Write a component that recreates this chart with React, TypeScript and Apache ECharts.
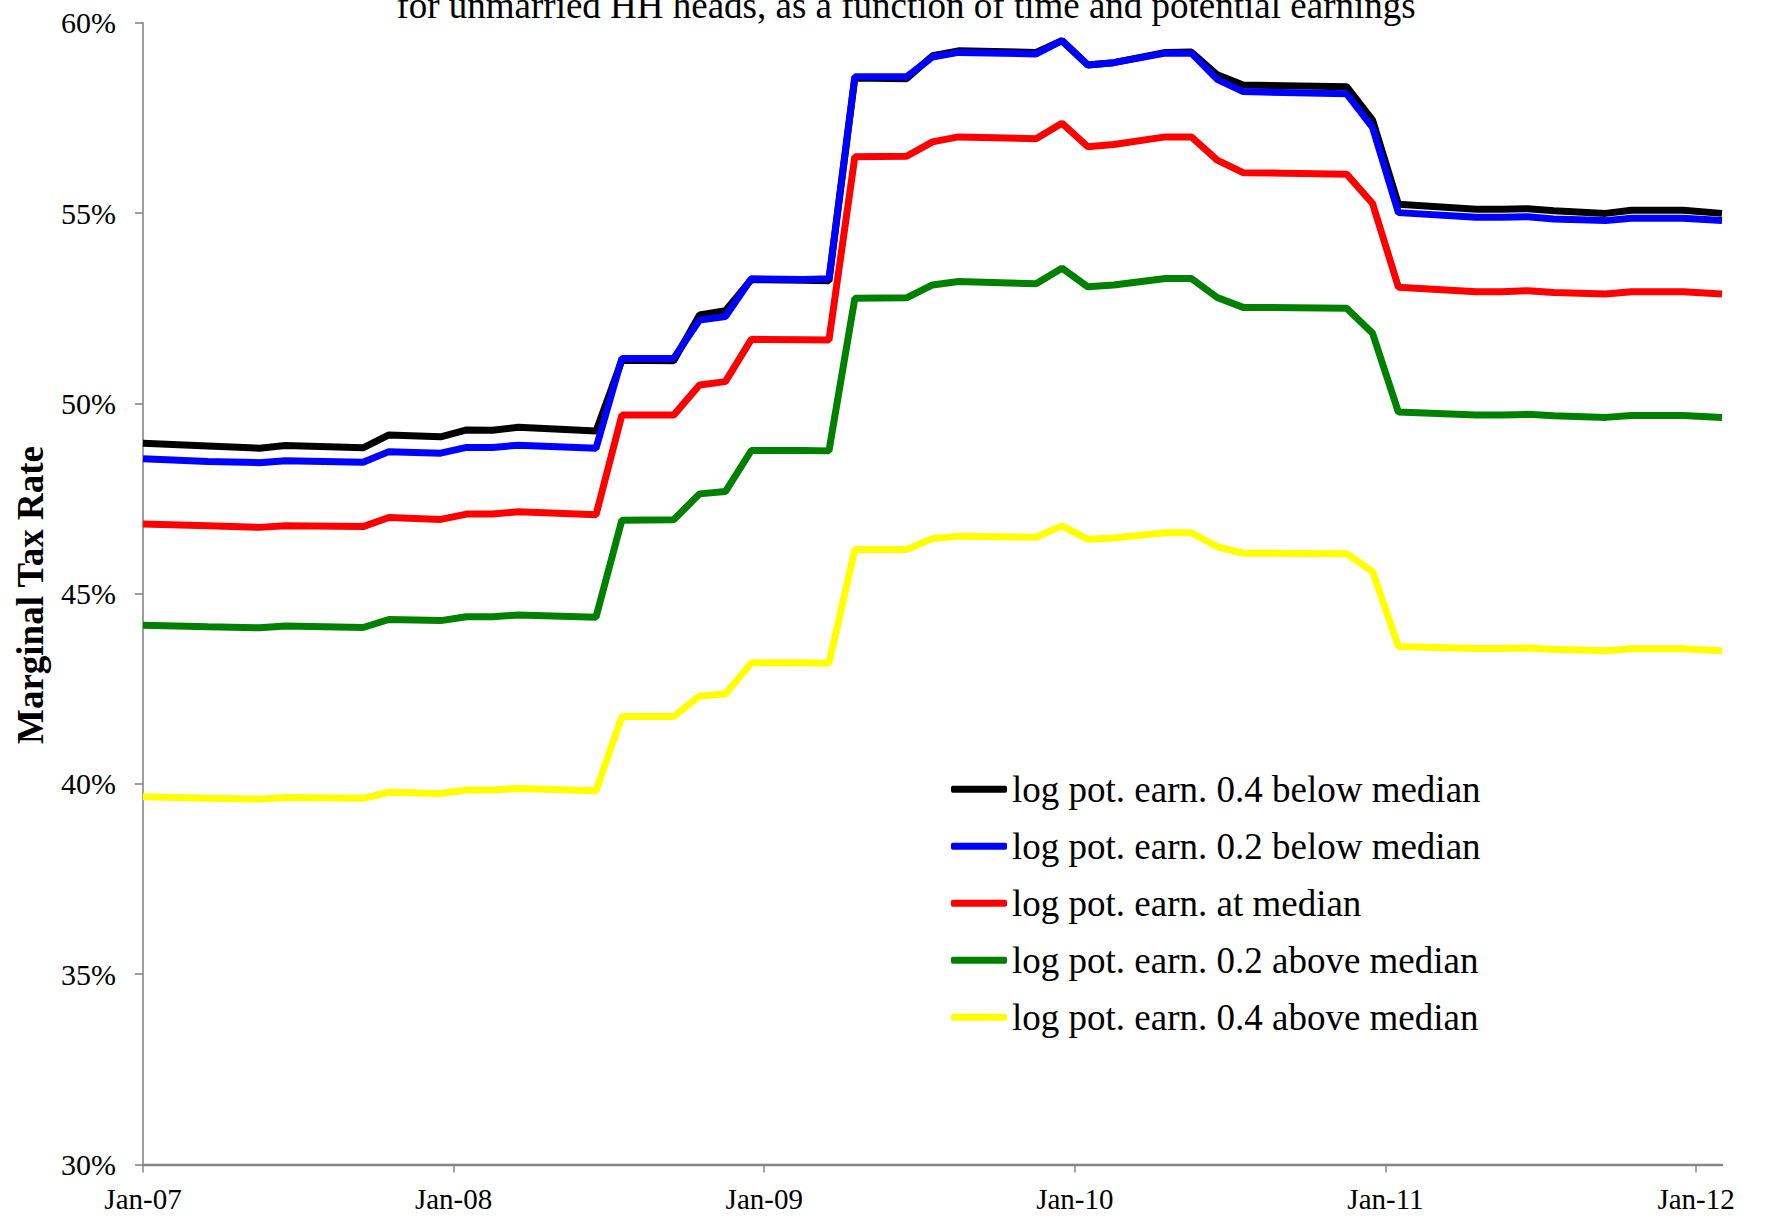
import React, { useEffect, useRef } from 'react';
import * as echarts from 'echarts';

// Observation times, in months since 1 Jan 2007 (monthly observations plotted mid-month)
const obsMonths = [
  0, 2.5, 4.5, 5.5, 8.5, 9.5, 11.5, 12.5, 13.5, 14.5, 17.5, 18.5, 20.5, 21.5, 22.5, 23.5,
  25.5, 26.5, 27.5, 29.5, 30.5, 31.5, 34.5, 35.5, 36.5, 37.5, 39.5, 40.5, 41.5, 42.5,
  46.5, 47.5, 48.5, 51.5, 52.5, 53.5, 54.5, 56.5, 57.5, 59.5, 61,
];

const below04 = [
  48.95, 48.88, 48.82, 48.89, 48.83, 49.17, 49.12, 49.3, 49.29, 49.37, 49.27, 51.13, 51.12, 52.32, 52.43, 53.25,
  53.23, 53.22, 58.55, 58.53, 59.13, 59.26, 59.22, 59.53, 58.89, 58.95, 59.22, 59.23, 58.63, 58.36,
  58.32, 57.44, 55.23, 55.1, 55.1, 55.11, 55.06, 54.99, 55.07, 55.07, 54.99,
];

const below02 = [
  48.54, 48.47, 48.44, 48.49, 48.45, 48.73, 48.69, 48.84, 48.84, 48.9, 48.82, 51.18, 51.18, 52.19, 52.28, 53.27,
  53.25, 53.27, 58.58, 58.58, 59.1, 59.22, 59.18, 59.53, 58.89, 58.95, 59.2, 59.2, 58.51, 58.19,
  58.13, 57.25, 55.01, 54.89, 54.89, 54.9, 54.84, 54.8, 54.86, 54.86, 54.8,
];

const atMedian = [
  46.83, 46.78, 46.74, 46.78, 46.76, 47.0, 46.95, 47.09, 47.09, 47.15, 47.07, 49.69, 49.69, 50.48, 50.57, 51.68,
  51.67, 51.66, 56.48, 56.49, 56.87, 57.0, 56.95, 57.36, 56.74, 56.8, 57.0, 57.0, 56.39, 56.06,
  56.02, 55.25, 53.05, 52.93, 52.93, 52.96, 52.91, 52.87, 52.93, 52.93, 52.87,
];

const above02 = [
  44.17, 44.13, 44.1, 44.15, 44.11, 44.32, 44.29, 44.39, 44.39, 44.44, 44.38, 46.93, 46.94, 47.62, 47.68, 48.76,
  48.76, 48.75, 52.76, 52.77, 53.11, 53.2, 53.14, 53.55, 53.06, 53.11, 53.28, 53.28, 52.78, 52.52,
  52.5, 51.84, 49.77, 49.69, 49.69, 49.71, 49.67, 49.63, 49.68, 49.68, 49.63,
];

const above04 = [
  39.66, 39.62, 39.6, 39.64, 39.62, 39.78, 39.75, 39.84, 39.84, 39.88, 39.82, 41.77, 41.77, 42.31, 42.36, 43.18,
  43.18, 43.17, 46.16, 46.16, 46.45, 46.51, 46.48, 46.78, 46.43, 46.46, 46.6, 46.6, 46.23, 46.06,
  46.05, 45.58, 43.61, 43.56, 43.56, 43.57, 43.54, 43.5, 43.55, 43.55, 43.5,
];

const seriesNames = [
  'log pot. earn. 0.4 below median',
  'log pot. earn. 0.2 below median',
  'log pot. earn. at median',
  'log pot. earn. 0.2 above median',
  'log pot. earn. 0.4 above median',
];
const seriesValues = [below04, below02, atMedian, above02, above04];
const seriesColors = ['#000000', '#0000ff', '#ff0000', '#008000', '#ffff00'];

const xTickMonths = [0, 12, 24, 36, 48, 60];
const xTickLabels = ['Jan-07', 'Jan-08', 'Jan-09', 'Jan-10', 'Jan-11', 'Jan-12'];

const titleText = 'for unmarried HH heads, as a function of time and potential earnings';
const yAxisTitle = 'Marginal Tax Rate';

export default function App() {
  const ref = useRef<HTMLDivElement>(null);

  useEffect(() => {
    if (!ref.current) return;
    const chart = echarts.init(ref.current, null, { renderer: 'svg' });
    const font = "'Times New Roman', 'Liberation Serif', serif";
    const axisColor = '#868686';

    chart.setOption({
      animation: false,
      backgroundColor: '#ffffff',
      grid: {
        left: 143,
        right: 46,
        top: 22.7,
        bottom: 57.5,
        containLabel: false,
        outerBoundsMode: 'none',
      },
      xAxis: {
        type: 'value',
        min: 0,
        max: 61,
        interval: 12,
        axisLine: { show: true, onZero: false, lineStyle: { color: axisColor, width: 2.4 } },
        axisTick: {
          show: true,
          length: 8,
          customValues: xTickMonths,
          lineStyle: { color: axisColor, width: 1.5 },
        },
        axisLabel: {
          customValues: xTickMonths,
          formatter: (v: number) => {
            const i = xTickMonths.indexOf(v);
            return i >= 0 ? xTickLabels[i] : '';
          },
          margin: 20,
          fontFamily: font,
          fontSize: 29,
          color: '#000',
        },
        splitLine: { show: false },
      },
      yAxis: {
        type: 'value',
        min: 30,
        max: 60,
        interval: 5,
        axisLine: { show: true, lineStyle: { color: axisColor, width: 1.6 } },
        axisTick: { show: true, length: 8, lineStyle: { color: axisColor, width: 1.6 } },
        axisLabel: {
          formatter: '{value}%',
          margin: 27,
          fontFamily: font,
          fontSize: 30,
          color: '#000',
        },
        splitLine: { show: false },
      },
      legend: {
        orient: 'vertical',
        left: 951,
        top: 770.8,
        padding: 0,
        itemGap: 20,
        itemWidth: 56,
        itemHeight: 7,
        icon: 'roundRect',
        selectedMode: false,
        textStyle: { fontFamily: font, fontSize: 37, color: '#000', lineHeight: 37 },
        data: seriesNames,
      },
      series: seriesNames.map((name, si) => ({
        name,
        type: 'line',
        color: seriesColors[si],
        showSymbol: false,
        symbol: 'none',
        lineStyle: { color: seriesColors[si], width: 7 },
        itemStyle: { color: seriesColors[si] },
        data: obsMonths.map((m, i) => [m, seriesValues[si][i]]),
      })),
      graphic: [
        {
          type: 'text',
          x: 906,
          y: 5,
          style: {
            text: titleText,
            fontFamily: font,
            fontSize: 37,
            fill: '#000',
            align: 'center',
            verticalAlign: 'middle',
          },
        },
        {
          type: 'text',
          x: 30.5,
          y: 595,
          rotation: Math.PI / 2,
          style: {
            text: yAxisTitle,
            fontFamily: font,
            fontSize: 37,
            fontWeight: 'bold',
            fill: '#000',
            align: 'center',
            verticalAlign: 'middle',
          },
        },
      ],
    });

    return () => chart.dispose();
  }, []);

  return (
    <div
      ref={ref}
      style={{ position: 'absolute', left: 0, top: 0, width: 1768, height: 1222, background: '#fff' }}
    />
  );
}
